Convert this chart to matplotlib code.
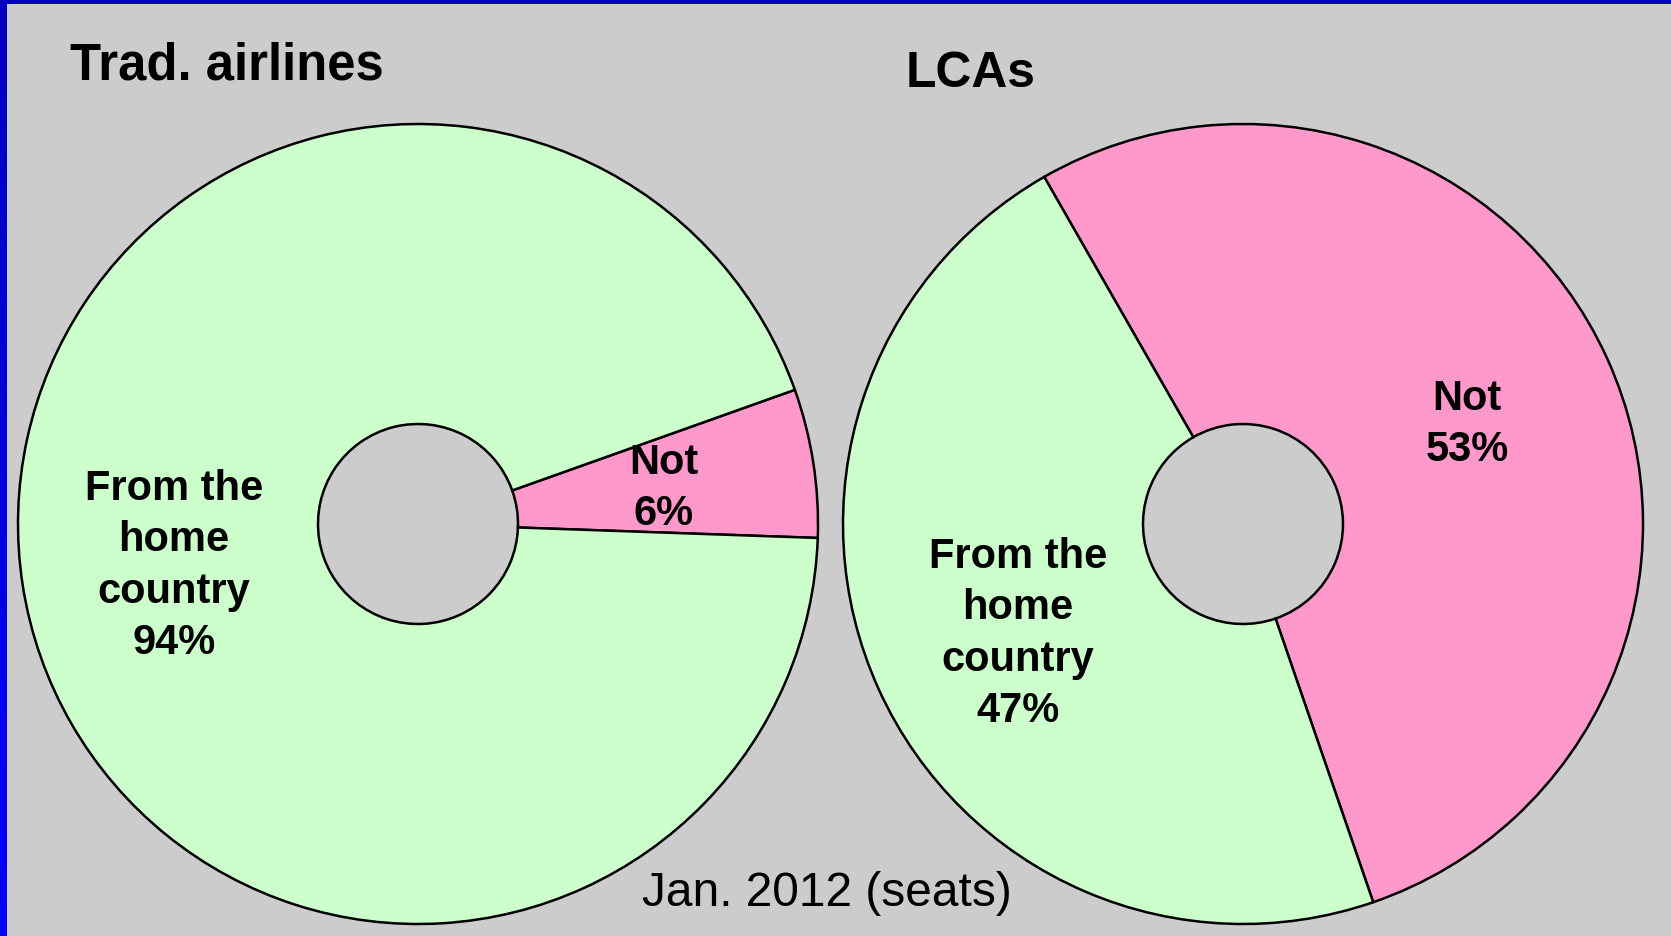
import matplotlib
matplotlib.use("Agg")
import matplotlib.pyplot as plt
import numpy as np
from matplotlib.patches import Rectangle

# Share of seats, January 2012
segments = ["Not", "From the\nhome\ncountry"]
trad_shares = [6, 94]
lca_shares = [53, 47]
titles = ["Trad. airlines", "LCAs"]
caption = "Jan. 2012 (seats)"

W, H = 1671, 937
BG = "#CCCCCC"
SEG_COLORS = ["#FF99CC", "#CCFFCC"]

fig = plt.figure(figsize=(W / 100, H / 100), dpi=100)
fig.patch.set_facecolor(BG)
ax = fig.add_axes([0, 0, 1, 1])
ax.set_facecolor(BG)

def py(y):
    """Convert a top-down pixel row to the axes' bottom-up coordinate."""
    return H - y

wedge_style = dict(width=300, edgecolor="black", linewidth=1.8)

ax.pie(trad_shares, colors=SEG_COLORS, startangle=-2.0, counterclock=True,
       radius=400, center=(418, py(525)), wedgeprops=wedge_style)
ax.pie(lca_shares, colors=SEG_COLORS, startangle=-71.0, counterclock=True,
       radius=400, center=(1243, py(525)), wedgeprops=wedge_style)

ax.set_xlim(0, W)
ax.set_ylim(0, H)
ax.set_aspect("auto")
ax.axis("off")

FONT = "Liberation Sans"
label_kw = dict(family=FONT, fontsize=30, fontweight="bold", ha="center",
                va="baseline", multialignment="center", linespacing=1.37,
                color="black")

# (x, baseline of the last line) for each wedge label
trad_pos = [(664, 525), (174, 654)]
lca_pos = [(1467, 461), (1018, 722)]
for seg, val, (x, y) in zip(segments, trad_shares, trad_pos):
    ax.text(x, py(y), f"{seg}\n{val}%", **label_kw)
for seg, val, (x, y) in zip(segments, lca_shares, lca_pos):
    ax.text(x, py(y), f"{seg}\n{val}%", **label_kw)

ax.text(70, py(79), titles[0], family=FONT, fontsize=36.5, fontweight="bold",
        ha="left", va="baseline")
ax.text(971, py(87), titles[1], family=FONT, fontsize=35.8, fontweight="bold",
        ha="center", va="baseline")
ax.text(827, py(906), caption, family=FONT, fontsize=34.5, ha="center",
        va="baseline")

# Slide frame: solid strip on top, shaded strip on the left
fig.add_artist(Rectangle((0, 1 - 5 / H), 1, 5 / H, transform=fig.transFigure,
                         facecolor="#0000C0", edgecolor="none", zorder=10))
strip = fig.add_axes([0, 0, 7 / W, 1 - 5 / H])
grad = np.zeros((256, 1, 3))
grad[:, 0, 2] = np.linspace(0xC0, 0xFF, 256) / 255.0
strip.imshow(grad, aspect="auto", interpolation="bilinear")
strip.axis("off")

fig.savefig("out.png", dpi=100, facecolor=BG)
